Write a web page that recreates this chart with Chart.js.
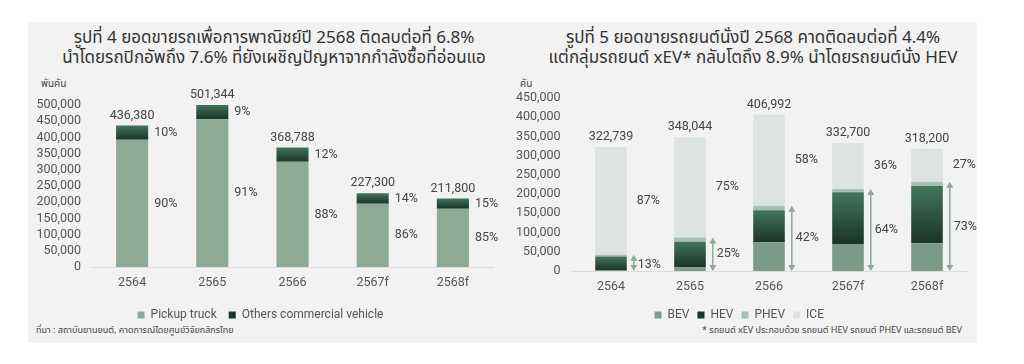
<!DOCTYPE html>
<html lang="th">
<head>
<meta charset="utf-8">
<script src="https://cdn.jsdelivr.net/npm/chart.js@4/dist/chart.umd.min.js"></script>
<style>
  body { margin: 0; background: #fff; width: 1024px; height: 364px; overflow: hidden; position: relative;
         font-family: "Noto Sans Thai", "Noto Sans", "DejaVu Sans", sans-serif; color: #333; }
  #panel { position: absolute; left: 28px; top: 22px; width: 949px; height: 321px; background: #f2f2f2; }
  .title { position: absolute; top: 28px; text-align: center; font-size: 17px; line-height: 20px; color: #333; white-space: nowrap; }
  .unit { position: absolute; top: 76px; font-size: 10px; color: #444; }
  .note { position: absolute; top: 323px; font-size: 9px; color: #444; white-space: nowrap; }
  canvas { position: absolute; }
</style>
</head>
<body>
<div id="panel"></div>
<div class="title" style="left:28px;width:492px">รูปที่ 4 ยอดขายรถเพื่อการพาณิชย์ปี 2568 ติดลบต่อที่ 6.8%<br>นำโดยรถปิกอัพถึง 7.6% ที่ยังเผชิญปัญหาจากกำลังซื้อที่อ่อนแอ</div>
<div class="title" style="left:512px;width:482px">รูปที่ 5 ยอดขายรถยนต์นั่งปี 2568 คาดติดลบต่อที่ 4.4%<br>แต่กลุ่มรถยนต์ xEV* กลับโตถึง 8.9% นำโดยรถยนต์นั่ง HEV</div>
<div class="unit" style="left:41px">พันคัน</div>
<div class="unit" style="left:520px">คัน</div>
<div class="note" style="left:36px">ที่มา : สถาบันยานยนต์, คาดการณ์โดยศูนย์วิจัยกสิกรไทย</div>
<div class="note" style="right:62px">* รถยนต์ xEV ประกอบด้วย รถยนต์ HEV รถยนต์ PHEV และรถยนต์ BEV</div>
<canvas id="left" width="484" height="321" style="left:28px;top:22px"></canvas>
<canvas id="right" width="465" height="321" style="left:512px;top:22px"></canvas>
<script>
// figure 4: commercial vehicles
const years = ["2564", "2565", "2566", "2567f", "2568f"];
const pickup = [392742, 456223, 324533, 195478, 180030];
const others = [43638, 45121, 44255, 31822, 31770];
const totalsLeft = ["436,380", "501,344", "368,788", "227,300", "211,800"];
const pickupPct = ["90%", "91%", "88%", "86%", "85%"];
const othersPct = ["10%", "9%", "12%", "14%", "15%"];

// figure 5: passenger cars
const bev = [1500, 10000, 75000, 70000, 72000];
const hev = [36500, 66000, 83000, 135000, 149000];
const phev = [4000, 11000, 12000, 8000, 11000];
const ice = [280739, 261044, 236992, 119700, 86200];
const totalsRight = ["322,739", "348,044", "406,992", "332,700", "318,200"];
const xevPct = ["13%", "25%", "42%", "64%", "73%"];
const icePct = ["87%", "75%", "58%", "36%", "27%"];

const FONT = 'Roboto, "Noto Sans", sans-serif';
Chart.defaults.font.family = FONT;
Chart.defaults.font.size = 12;
Chart.defaults.color = "#555";

function darkGrad(lower) {
  return function (ctx) {
    const chart = ctx.chart;
    if (ctx.type !== "data" || !chart.chartArea) return "#2c5241";
    const i = ctx.dataIndex;
    let base = 0;
    lower.forEach(a => base += a[i]);
    const top = base + ctx.dataset.data[i];
    const y0 = chart.scales.y.getPixelForValue(top);
    const y1 = chart.scales.y.getPixelForValue(base);
    const g = chart.ctx.createLinearGradient(0, y0, 0, y1);
    g.addColorStop(0, "#40765d");
    g.addColorStop(1, "#1b3328");
    return g;
  };
}

function baseOptions(max, yWidth, padRight, padTop, tickPad) {
  return {
    responsive: false,
    animation: false,
    layout: { padding: { top: padTop, right: padRight, bottom: 12, left: 0 } },
    plugins: {
      legend: {
        position: "bottom",
        labels: { boxWidth: 7, boxHeight: 7, padding: 12, color: "#555", font: { size: 12 } }
      },
      tooltip: { enabled: false }
    },
    scales: {
      x: {
        stacked: true,
        grid: { display: false },
        border: { display: true, color: "#dcdcdc" },
        ticks: { padding: 0, color: "#555", font: { size: 12.5 } },
        afterFit(s) { s.height = 30; }
      },
      y: {
        stacked: true,
        min: 0, max: max,
        grid: { display: false },
        border: { display: false },
        ticks: { stepSize: 50000, autoSkip: false, padding: tickPad, color: "#555",
                 font: { size: 12.5 },
                 callback: v => v.toLocaleString("en-US") },
        afterFit(s) { s.width = yWidth; }
      }
    }
  };
}

function text(c, s, x, y, align) {
  c.save();
  c.font = "12.5px " + FONT;
  c.fillStyle = "#444";
  c.textAlign = align || "left";
  c.textBaseline = "middle";
  c.fillText(s, x, y);
  c.restore();
}

const leftLabels = {
  id: "leftLabels",
  afterDatasetsDraw(chart) {
    const c = chart.ctx;
    const m0 = chart.getDatasetMeta(0).data, m1 = chart.getDatasetMeta(1).data;
    years.forEach((_, i) => {
      const a = m0[i], b = m1[i];
      const right = a.x + a.width / 2 + 6;
      text(c, totalsLeft[i], a.x, b.y - 10, "center");
      text(c, othersPct[i], right, (b.y + b.base) / 2);
      text(c, pickupPct[i], right, (a.y + a.base) / 2);
    });
  }
};

new Chart(document.getElementById("left"), {
  type: "bar",
  data: {
    labels: years,
    datasets: [
      { label: "Pickup truck", data: pickup, backgroundColor: "#8ea996",
        barPercentage: 0.4, categoryPercentage: 1 },
      { label: "Others commercial vehicle", data: others, backgroundColor: darkGrad([pickup]),
        barPercentage: 0.4, categoryPercentage: 1 }
    ]
  },
  options: baseOptions(500000, 64, 19, 83, 3),
  plugins: [leftLabels]
});

const rightLabels = {
  id: "rightLabels",
  afterDatasetsDraw(chart) {
    const c = chart.ctx;
    const y = chart.scales.y;
    const mB = chart.getDatasetMeta(0).data, mP = chart.getDatasetMeta(2).data, mI = chart.getDatasetMeta(3).data;
    years.forEach((_, i) => {
      const b = mB[i], p = mP[i], s = mI[i];
      const ax = b.x + b.width / 2 + 7;
      const y0 = y.getPixelForValue(0), y1 = p.y;
      c.save();
      c.strokeStyle = "#8ea996";
      c.fillStyle = "#8ea996";
      c.lineWidth = 1.5;
      c.beginPath(); c.moveTo(ax, y0 - 2); c.lineTo(ax, y1 + 2); c.stroke();
      c.beginPath(); c.moveTo(ax - 3.5, y1 + 6); c.lineTo(ax, y1); c.lineTo(ax + 3.5, y1 + 6); c.closePath(); c.fill();
      c.beginPath(); c.moveTo(ax - 3.5, y0 - 6); c.lineTo(ax, y0); c.lineTo(ax + 3.5, y0 - 6); c.closePath(); c.fill();
      c.restore();
      text(c, totalsRight[i], s.x, s.y - 10, "center");
      text(c, xevPct[i], ax + 4, (y0 + y1) / 2 + (i === 0 ? 2 : 0));
      text(c, icePct[i], b.x + b.width / 2 + 10, (s.y + s.base) / 2);
    });
  }
};

const rightOpts = baseOptions(450000, 59.5, 10.5, 76, 3);
rightOpts.plugins.legend.labels.padding = 8;

new Chart(document.getElementById("right"), {
  type: "bar",
  data: {
    labels: years,
    datasets: [
      { label: "BEV", data: bev, backgroundColor: "#7c9c89", barPercentage: 0.4, categoryPercentage: 1 },
      { label: "HEV", data: hev, backgroundColor: darkGrad([bev]), barPercentage: 0.4, categoryPercentage: 1 },
      { label: "PHEV", data: phev, backgroundColor: "#a8bfb1", barPercentage: 0.4, categoryPercentage: 1 },
      { label: "ICE", data: ice, backgroundColor: "#dde3e0", barPercentage: 0.4, categoryPercentage: 1 }
    ]
  },
  options: rightOpts,
  plugins: [rightLabels]
});
</script>
</body>
</html>
